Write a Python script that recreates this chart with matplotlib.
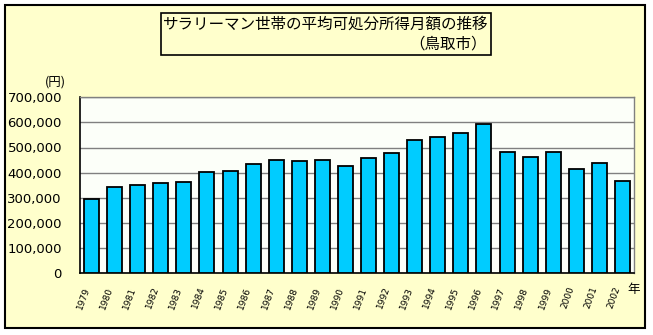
import matplotlib
matplotlib.use("Agg")
import matplotlib.pyplot as plt
from matplotlib.patches import Rectangle

plt.rcParams['font.family'] = ['Noto Sans CJK JP', 'DejaVu Sans']

years = [str(y) for y in range(1979, 2003)]
values = [294000, 341000, 349000, 357000, 361000, 401000, 405000, 433000,
          449000, 445000, 449000, 425000, 457000, 477000, 529000, 541000,
          557000, 592000, 481000, 461000, 481000, 413000, 437000, 365000]
yticks = [0, 100000, 200000, 300000, 400000, 500000, 600000, 700000]
title_line1 = "サラリーマン世帯の平均可処分所得月額の推移"
title_line2 = "（鳥取市）"

W, H = 653, 335
fig = plt.figure(figsize=(W / 100, H / 100), dpi=100)
fig.patch.set_facecolor('white')

def fx(px):
    return px / W

def fy(py):
    return 1 - py / H

# background axes for frames
bg = fig.add_axes([0, 0, 1, 1], zorder=0)
bg.set_xlim(0, W)
bg.set_ylim(H, 0)
bg.axis('off')
bg.add_patch(Rectangle((5, 5), 640, 323, facecolor='#FFFFCC',
                       edgecolor='black', linewidth=1.5))
bg.add_patch(Rectangle((161, 13), 330, 42, facecolor='#FFFFCC',
                       edgecolor='black', linewidth=1.2))
bg.text(326, 24, title_line1, ha='center', va='center', fontsize=11.2)
bg.text(487, 44, title_line2, ha='right', va='center', fontsize=11.2)
bg.text(55, 82, "(円)", ha='center', va='center', fontsize=9)
bg.text(634, 290, "年", ha='center', va='center', fontsize=9)

L, R, T, B = 80, 634, 97.3, 273
ax = fig.add_axes([fx(L), fy(B), fx(R) - fx(L), fy(T) - fy(B)], zorder=2)
ax.set_facecolor('#FCFFF9')
x = list(range(len(years)))
ax.bar(x, values, width=0.65, color='#00CCFF', edgecolor='black', linewidth=1.3, zorder=3)
ax.set_xlim(-0.5, len(years) - 0.5)
ax.set_ylim(0, 700000)
ax.set_yticks(yticks)
ax.set_yticklabels([f"{v:,}" for v in yticks], fontsize=9.5, family='DejaVu Sans')
ax.set_xticks(x)
ax.set_xticklabels(years, rotation=70, ha='right', va='top', fontsize=6.5, family='DejaVu Sans')
ax.tick_params(axis='y', length=0, pad=13)
ax.tick_params(axis='x', length=0, pad=9)
ax.yaxis.grid(True, color='#808080', linewidth=1, zorder=1)
ax.set_axisbelow(True)
for side in ['top', 'right']:
    ax.spines[side].set_color('#808080')
    ax.spines[side].set_linewidth(1)
for side in ['left', 'bottom']:
    ax.spines[side].set_color('black')
    ax.spines[side].set_linewidth(1.2)

fig.savefig('out.png', dpi=100, facecolor='white')
